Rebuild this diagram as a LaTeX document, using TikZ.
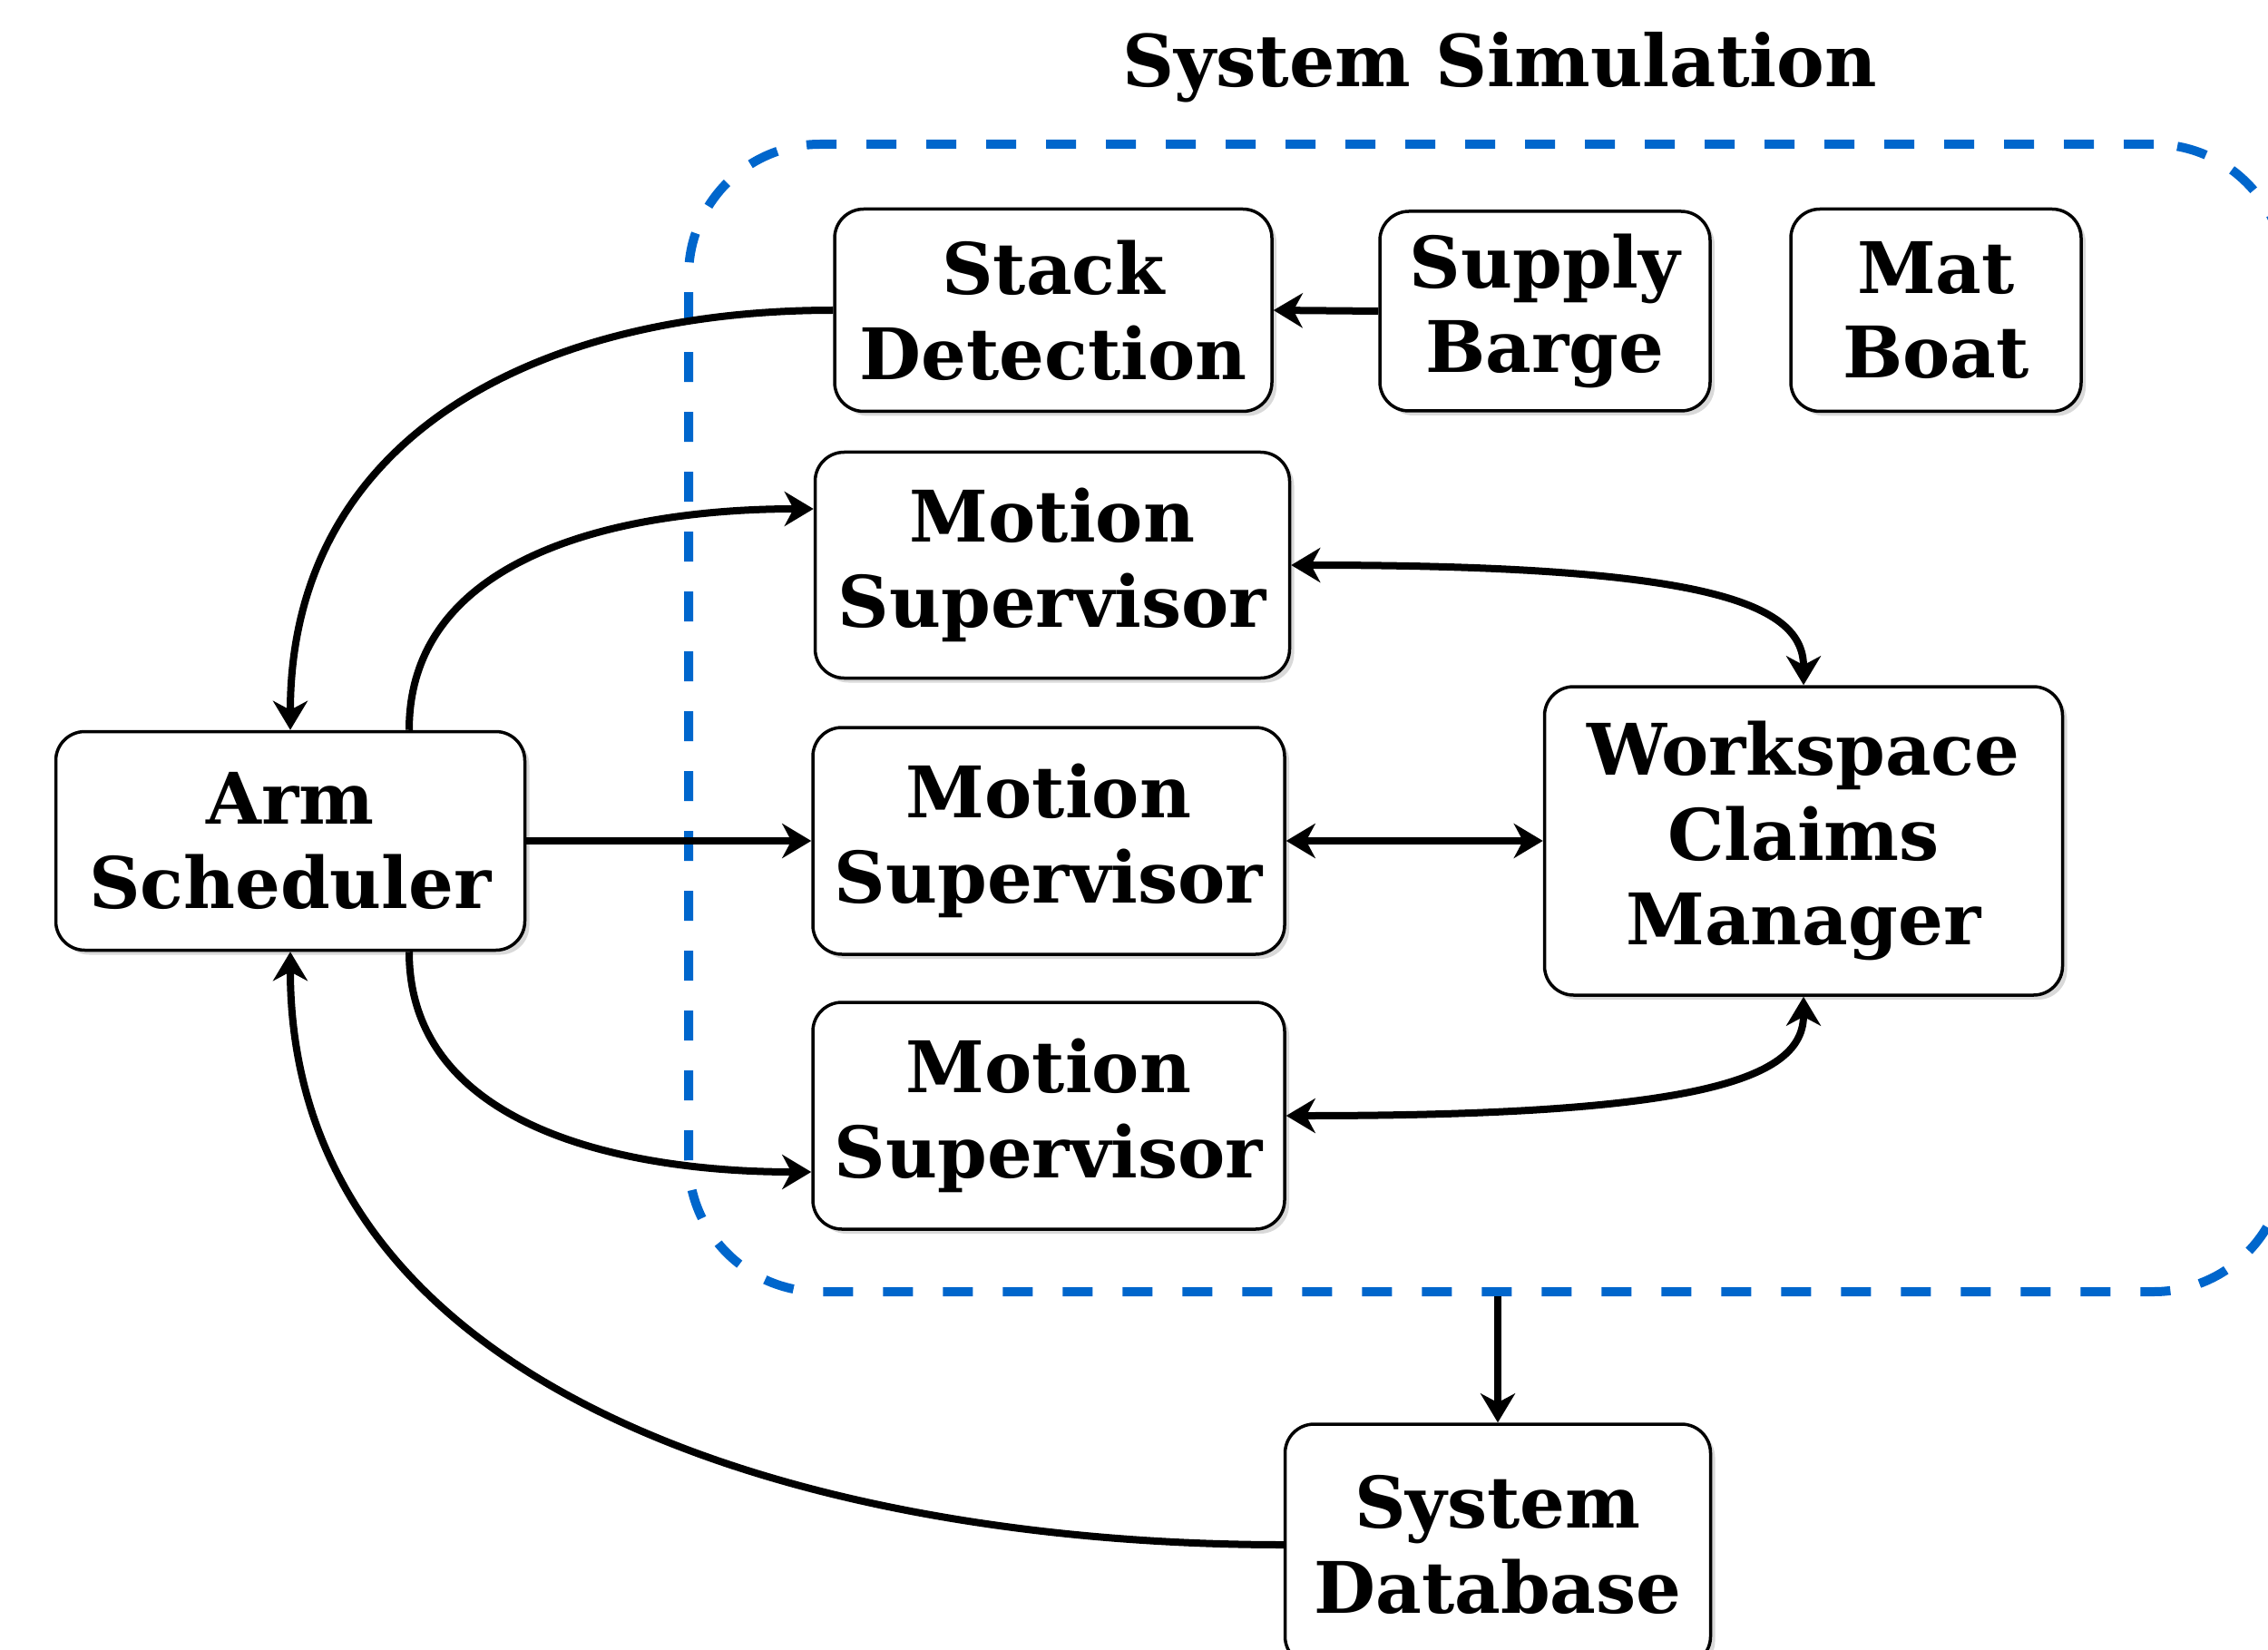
\documentclass[tikz,border=0pt]{standalone}
\usepackage{fontspec}
\setmainfont{DejaVu Serif}
\usetikzlibrary{arrows.meta}
\usetikzlibrary{shadows}
\definecolor{simblue}{RGB}{0,102,204}
\tikzset{%
  myedge/.style={->, line width=0.08cm, >={Stealth[length=0.32cm, width=0.38cm, inset=0.1cm]}},
  mydedge/.style={myedge, <->},
  mynode/.style={rectangle, rounded corners=0.32cm, draw=black, line width=0.035cm, fill=white,
    align=center, inner sep=0pt, font=\bfseries\fontsize{22.3}{26.7}\selectfont,
    drop shadow={shadow xshift=0.05cm, shadow yshift=-0.05cm, opacity=0.3}},
  simbox/.style={rectangle, rounded corners=1.45cm, draw=simblue, line width=0.1cm,
    dash pattern=on 0.33cm off 0.33cm}
}

\begin{document}
\begin{tikzpicture}
  \useasboundingbox (0,0) rectangle (25,-18.19);
  \node[simbox, minimum width=17.6cm, minimum height=12.65cm] (sim) at (16.39,-7.915) {};
  \node[font=\bfseries\fontsize{22.5}{26}\selectfont] (title) at (16.53,-0.74) {System Simulation};

  \node[mynode, minimum width=4.82cm, minimum height=2.23cm] (sd) at (11.61,-3.42) {Stack\\Detection};
  \node[mynode, minimum width=3.64cm, minimum height=2.20cm] (sb) at (17.03,-3.43) {Supply\\Barge};
  \node[mynode, minimum width=3.20cm, minimum height=2.23cm] (mb) at (21.34,-3.42) {Mat\\Boat};
  \node[mynode, minimum width=5.23cm, minimum height=2.49cm] (ms1) at (11.60,-6.23) {Motion\\Supervisor};
  \node[mynode, minimum width=5.20cm, minimum height=2.50cm] (ms2) at (11.56,-9.27) {Motion\\Supervisor};
  \node[mynode, minimum width=5.20cm, minimum height=2.50cm] (ms3) at (11.56,-12.30) {Motion\\Supervisor};
  \node[mynode, minimum width=5.71cm, minimum height=3.40cm] (wcm) at (19.88,-9.27) {Workspace\\Claims\\Manager};
  \node[mynode, minimum width=5.17cm, minimum height=2.41cm] (arm) at (3.20,-9.27) {Arm\\Scheduler};
  \node[mynode, minimum width=4.69cm, minimum height=2.66cm] (db) at (16.51,-17.03) {System\\Database};

  \draw [myedge] (sb.west) -- (sd.east);
  \draw [myedge] (sd.west) to [out=180, in=90, looseness=1.1] (arm.north);
  \draw [myedge] ([xshift=1.31cm]arm.north) to [out=90, in=180] ([yshift=0.62cm]ms1.west);
  \draw [myedge] (arm.east) -- (ms2.west);
  \draw [myedge] ([xshift=1.31cm]arm.south) to [out=-90, in=180] ([yshift=-0.62cm]ms3.west);
  \draw [myedge] (db.west) to [out=180, in=-90] (arm.south);
  \draw [mydedge] (ms1.east) .. controls +(4.6,0) and +(0,0.9) .. (wcm.north);
  \draw [mydedge] (ms2.east) -- (wcm.west);
  \draw [mydedge] (ms3.east) .. controls +(4.6,0) and +(0,-0.9) .. (wcm.south);
  \draw [myedge] (sim.south -| db.north) -- (db.north);
\end{tikzpicture}
\end{document}
